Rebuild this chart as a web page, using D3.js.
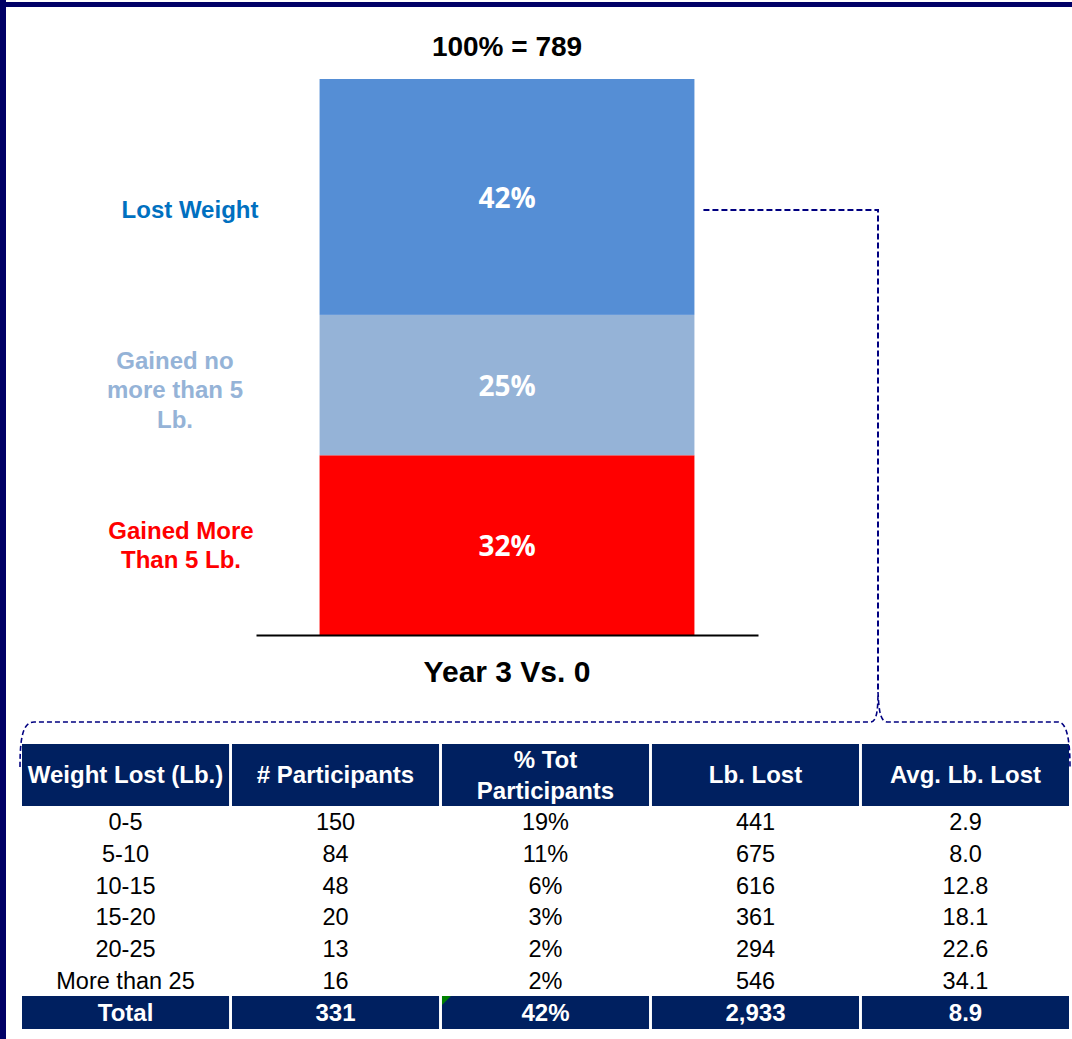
<!DOCTYPE html>
<html>
<head>
<meta charset="utf-8">
<script src="https://cdn.jsdelivr.net/npm/d3@7"></script>
<style>
  body { margin: 0; background: #fff; }
  svg text { font-family: "Liberation Sans", Arial, sans-serif; }
</style>
</head>
<body>
<div id="chart"></div>
<script>
//** chart data
const barCategory = 'Year 3 Vs. 0';
const totalLabel = '100% = 789';
const segments = ['Gained More Than 5 Lb.', 'Gained no more than 5 Lb.', 'Lost Weight'];
const segmentLines = [['Gained More', 'Than 5 Lb.'], ['Gained no', 'more than 5', 'Lb.'], ['Lost Weight']];
const segmentPct = [32, 25, 42];

//** table data
const tableHeaders = [['Weight Lost (Lb.)'], ['# Participants'], ['% Tot', 'Participants'], ['Lb. Lost'], ['Avg. Lb. Lost']];
const weightRanges = ['0-5', '5-10', '10-15', '15-20', '20-25', 'More than 25'];
const participants = [150, 84, 48, 20, 13, 16];
const pctParticipants = [19, 11, 6, 3, 2, 2];
const lbLost = [441, 675, 616, 361, 294, 546];
const avgLbLost = [2.9, 8.0, 12.8, 18.1, 22.6, 34.1];
const totalRow = ['Total', 331, 42, 2933, 8.9];

//** styles
const W = 1072, H = 1039;
const segColors = ['#ff0000', '#95b3d7', '#558ed5'];
const labelColors = ['#ff0000', '#95b3d7', '#0070c0'];
const labelX = [181, 175, 190];
const labelDy = [8.5, 13, 21];
const navy = '#002060';
const border = '#000066';
const dashColor = '#000080';

const svg = d3.select('#chart').append('svg')
  .attr('width', W)
  .attr('height', H);

//** page border (left + top)
svg.append('rect').attr('x', 0).attr('y', 0).attr('width', 6).attr('height', H).attr('fill', border);
svg.append('rect').attr('x', 0).attr('y', 2).attr('width', W).attr('height', 5).attr('fill', border);

//** scales
const x = d3.scaleBand()
  .domain([barCategory])
  .range([256, 758])
  .padding(0.145);
const y = d3.scaleLinear()
  .domain([0, d3.sum(segmentPct)])
  .range([635, 79]);

const stacked = [];
let acc = 0;
segmentPct.forEach((v, i) => {
  stacked.push({ key: segments[i], v: v, y0: acc, y1: acc + v, i: i });
  acc += v;
});

//** bar segments
const g = svg.append('g');
g.selectAll('rect.seg')
  .data(stacked)
  .enter().append('rect')
  .attr('class', 'seg')
  .attr('x', x(barCategory))
  .attr('width', x.bandwidth())
  .attr('y', d => y(d.y1))
  .attr('height', d => y(d.y0) - y(d.y1))
  .attr('fill', d => segColors[d.i]);

g.selectAll('text.pct')
  .data(stacked)
  .enter().append('text')
  .attr('class', 'pct')
  .attr('x', x(barCategory) + x.bandwidth() / 2)
  .attr('y', d => (y(d.y0) + y(d.y1)) / 2 + 11)
  .attr('text-anchor', 'middle')
  .attr('fill', '#fff')
  .style('font-family', '"Open Sans", sans-serif')
  .style('font-weight', 'bold')
  .style('font-size', '28px')
  .text(d => d.v + '%');

//** segment labels on the left
stacked.forEach(d => {
  const lines = segmentLines[d.i];
  const cy = (y(d.y0) + y(d.y1)) / 2;
  const lh = 29.5;
  const t = g.append('text')
    .attr('text-anchor', 'middle')
    .attr('fill', labelColors[d.i])
    .style('font-weight', 'bold')
    .style('font-size', '24px');
  lines.forEach((ln, k) => {
    t.append('tspan')
      .attr('x', labelX[d.i])
      .attr('y', cy + labelDy[d.i] + (k - (lines.length - 1) / 2) * lh)
      .text(ln);
  });
});

//** baseline axis
const xAxis = d3.axisBottom(x).tickSize(0).tickFormat('');
g.append('g')
  .attr('transform', 'translate(0,' + y(0) + ')')
  .call(xAxis)
  .call(s => s.select('.domain').attr('stroke', '#000').attr('stroke-width', 2));

g.append('text')
  .attr('x', x(barCategory) + x.bandwidth() / 2)
  .attr('y', 682)
  .attr('text-anchor', 'middle')
  .style('font-weight', 'bold')
  .style('font-size', '30px')
  .text(barCategory);

g.append('text')
  .attr('x', x(barCategory) + x.bandwidth() / 2)
  .attr('y', 56)
  .attr('text-anchor', 'middle')
  .style('font-weight', 'bold')
  .style('font-size', '28px')
  .text(totalLabel);

//** table
const cols = d3.scaleBand()
  .domain(d3.range(tableHeaders.length))
  .range([22, 1069])
  .paddingInner(0.014);
const rows = d3.scaleBand()
  .domain(d3.range(weightRanges.length))
  .range([806, 996]);
const headTop = 744, totalTop = 996, totalH = 33;

const tg = svg.append('g');
//** header cells
tg.selectAll('rect.head')
  .data(tableHeaders)
  .enter().append('rect')
  .attr('x', (d, i) => cols(i))
  .attr('y', headTop)
  .attr('width', cols.bandwidth())
  .attr('height', 806 - headTop)
  .attr('fill', navy);
tableHeaders.forEach((lines, i) => {
  const t = tg.append('text')
    .attr('text-anchor', 'middle')
    .attr('fill', '#fff')
    .style('font-weight', 'bold')
    .style('font-size', '24px');
  lines.forEach((ln, k) => {
    t.append('tspan')
      .attr('x', cols(i) + cols.bandwidth() / 2)
      .attr('y', 783 + (k - (lines.length - 1) / 2) * 31)
      .text(ln);
  });
});

//** body rows
const fmt = d3.format(',');
const body = weightRanges.map((r, i) => [r, participants[i], pctParticipants[i] + '%', lbLost[i], avgLbLost[i].toFixed(1)]);
body.forEach((row, ri) => {
  row.forEach((val, ci) => {
    tg.append('text')
      .attr('x', cols(ci) + cols.bandwidth() / 2)
      .attr('y', rows(ri) + rows.bandwidth() / 2 + 8.5)
      .attr('text-anchor', 'middle')
      .attr('fill', '#000')
      .style('font-size', '23.5px')
      .text(val);
  });
});

//** total row
const totalText = [totalRow[0], fmt(totalRow[1]), totalRow[2] + '%', fmt(totalRow[3]), totalRow[4].toFixed(1)];
totalText.forEach((val, ci) => {
  tg.append('rect')
    .attr('x', cols(ci))
    .attr('y', totalTop)
    .attr('width', cols.bandwidth())
    .attr('height', totalH)
    .attr('fill', navy);
  tg.append('text')
    .attr('x', cols(ci) + cols.bandwidth() / 2)
    .attr('y', totalTop + totalH / 2 + 8.5)
    .attr('text-anchor', 'middle')
    .attr('fill', '#fff')
    .style('font-weight', 'bold')
    .style('font-size', '24px')
    .text(val);
});
//** excel-style green indicator
tg.append('path')
  .attr('d', d3.line()([[cols(2), totalTop], [cols(2) + 9, totalTop], [cols(2), totalTop + 9]]) + 'Z')
  .attr('fill', '#008000');

//** dashed connector + brace
const peakX = 879;
const braceY = headTop - 22;
const conn = d3.path();
conn.moveTo(x(barCategory) + x.bandwidth() + 9, 210);
conn.lineTo(peakX - 1, 210);
conn.lineTo(peakX - 1, braceY - 30);
svg.append('path')
  .attr('d', conn.toString())
  .attr('fill', 'none')
  .attr('stroke', dashColor)
  .attr('stroke-width', 2)
  .attr('stroke-dasharray', '6,3');

const brace = d3.path();
brace.moveTo(20, braceY + 45);
brace.bezierCurveTo(20, braceY + 15, 23, braceY, 34, braceY);
brace.lineTo(peakX - 9, braceY);
brace.bezierCurveTo(peakX - 3, braceY, peakX - 1, braceY - 8, peakX - 1, braceY - 30);
brace.moveTo(peakX - 1, braceY - 30);
brace.bezierCurveTo(peakX, braceY - 8, peakX + 2, braceY, peakX + 9, braceY);
brace.lineTo(1058, braceY);
brace.bezierCurveTo(1066, braceY, 1070, braceY + 15, 1070, braceY + 45);
svg.append('path')
  .attr('d', brace.toString())
  .attr('fill', 'none')
  .attr('stroke', dashColor)
  .attr('stroke-width', 1.6)
  .attr('stroke-dasharray', '5,3');
</script>
</body>
</html>
